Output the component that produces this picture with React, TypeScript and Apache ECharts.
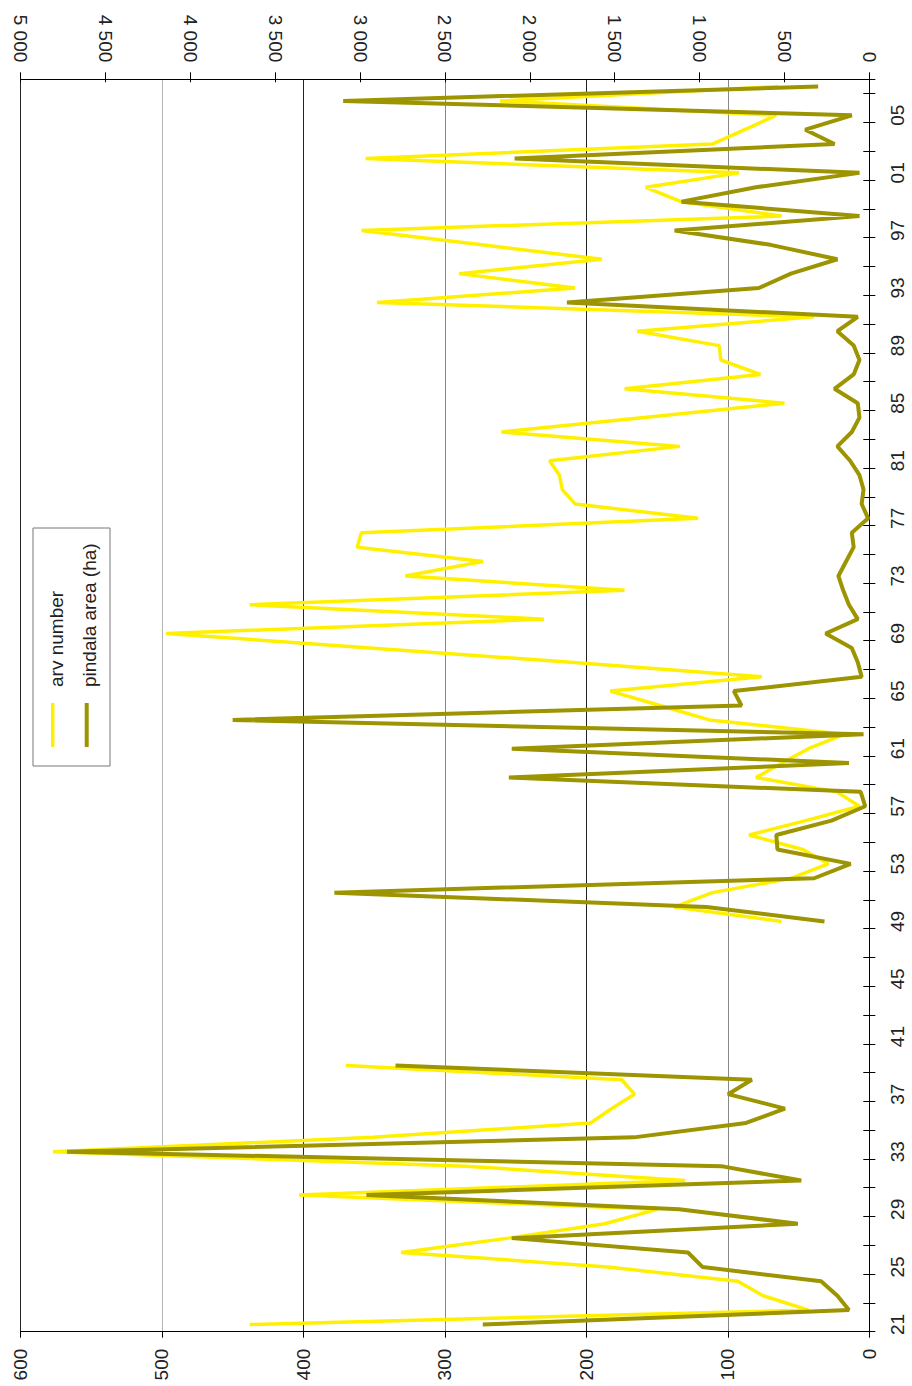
import React, { useEffect, useRef } from "react";
import * as echarts from "echarts";

const years: string[] = [];
for (let y = 1921; y <= 2007; y++) years.push(String(y));

// arv number (left axis 0-600), 1921..2007, null = no data
const arvNumber: (number | null)[] = [
  438, 43, 75, 93, 185, 331, 255, 187, 150, 403, // 1921-1930
  130, 285, 577, 351, 197, 182, 166, 175, 370, null, // 1931-1940
  null, null, null, null, null, null, null, null, 62, 138, // 1941-1950
  111, 55, 29, 47, 85, 45, 7, 23, 80, 62, // 1951-1960
  43, 18, 113, 148, 183, 76, 211, 353, 497, 230, // 1961-1970
  438, 173, 328, 273, 362, 359, 121, 208, 217, 219, // 1971-1980
  226, 134, 260, 159, 60, 173, 77, 105, 106, 164, // 1981-1990
  39, 348, 208, 290, 189, 274, 359, 62, 133, 158, // 1991-2000
  92, 356, 111, 88, 66, 261, 64, // 2001-2007
];

// pindala area (ha) (right axis 0-5000)
const pindalaArea: (number | null)[] = [
  2277, 120, 188, 284, 983, 1068, 2106, 421, 1120, 2962, // 1921-1930
  401, 873, 4726, 1387, 726, 497, 832, 692, 2791, null, // 1931-1940
  null, null, null, null, null, null, null, null, 264, 959, // 1941-1950
  3151, 325, 110, 541, 548, 223, 24, 51, 2123, 120, // 1951-1960
  2106, 34, 3750, 753, 798, 45, 68, 103, 257, 68, // 1961-1970
  120, 154, 182, 137, 92, 103, 7, 45, 34, 58, // 1971-1980
  113, 188, 103, 58, 68, 205, 92, 58, 92, 188, // 1981-1990
  68, 1781, 651, 462, 188, 582, 1147, 58, 1106, 668, // 1991-2000
  58, 2089, 205, 377, 103, 3099, 301, // 2001-2007
];

const seriesNames = ["arv number", "pindala area (ha)"];
const FONT = '"Liberation Sans", Arial, Helvetica, sans-serif';
const TXT = "#222";

function fmtThousands(v: number): string {
  if (v >= 1000) {
    const t = Math.floor(v / 1000);
    const r = String(v % 1000).padStart(3, "0");
    return `${t} ${r}`;
  }
  return String(v);
}

export default function App() {
  const ref = useRef<HTMLDivElement>(null);
  useEffect(() => {
    if (!ref.current) return;
    const chart = echarts.init(ref.current, undefined, { renderer: "svg" });
    const option: any = {
      animation: false,
      backgroundColor: "#fff",
      textStyle: { fontFamily: FONT },
      grid: { left: 20.5, right: 42.7, top: 79.3, bottom: 54.3, containLabel: false },
      xAxis: [
        {
          type: "value",
          position: "bottom",
          min: 0,
          max: 600,
          interval: 100,
          inverse: true,
          axisLine: { show: true, lineStyle: { color: "#000", width: 1 } },
          axisTick: { show: true, inside: false, length: 6, lineStyle: { color: "#000" } },
          axisLabel: { rotate: 90, margin: 17, fontSize: 19, color: TXT, fontFamily: FONT },
          splitLine: {
            show: true,
            lineStyle: {
              width: 1,
              color: ["#000", "#888", "#222", "#888", "#222", "#b5b5b5", "#222"],
            },
          },
        },
        {
          type: "value",
          position: "top",
          min: 0,
          max: 5000,
          interval: 500,
          inverse: true,
          axisLine: { show: true, lineStyle: { color: "#000", width: 1 } },
          axisTick: { show: true, inside: false, length: 7, lineStyle: { color: "#000" } },
          axisLabel: {
            rotate: 90,
            margin: 17,
            fontSize: 19,
            color: TXT,
            fontFamily: FONT,
            formatter: (v: number) => fmtThousands(v),
          },
          splitLine: { show: false },
        },
        {
          type: "value",
          position: "top",
          min: 0,
          max: 5000,
          interval: 500,
          inverse: true,
          axisLine: { show: false },
          axisTick: { show: true, inside: true, length: 3, lineStyle: { color: "#000" } },
          axisLabel: { show: false },
          splitLine: { show: false },
        },
      ],
      yAxis: [
        {
          type: "category",
          position: "right",
          data: years,
          boundaryGap: true,
          axisLine: { show: true, lineStyle: { color: "#000", width: 1 } },
          axisTick: { show: true, inside: false, length: 6, interval: 1, lineStyle: { color: "#000" } },
          axisLabel: {
            interval: 3,
            rotate: 90,
            margin: 19,
            fontSize: 19,
            color: TXT,
            fontFamily: FONT,
            formatter: (v: string) => v.slice(2),
          },
          splitLine: { show: false },
        },
        {
          type: "category",
          position: "right",
          data: years,
          boundaryGap: true,
          axisLine: { show: false },
          axisTick: { show: true, inside: true, length: 6, interval: 1, lineStyle: { color: "#000" } },
          axisLabel: { show: false },
          splitLine: { show: false },
        },
      ],
      series: [
        {
          name: seriesNames[0],
          type: "line",
          xAxisIndex: 0,
          yAxisIndex: 0,
          data: arvNumber,
          symbol: "none",
          connectNulls: false,
          lineStyle: { color: "#fff000", width: 3.5 },
          itemStyle: { color: "#fff000" },
          z: 2,
        },
        {
          name: seriesNames[1],
          type: "line",
          xAxisIndex: 1,
          yAxisIndex: 0,
          data: pindalaArea,
          symbol: "none",
          connectNulls: false,
          lineStyle: { color: "#9c9400", width: 4 },
          itemStyle: { color: "#9c9400" },
          z: 3,
        },
      ],
      graphic: [
        {
          type: "rect",
          shape: { x: 33, y: 528, width: 77, height: 238 },
          style: { fill: "#fff", stroke: "#777", lineWidth: 1 },
          z: 100,
        },
        {
          type: "line",
          shape: { x1: 52.7, y1: 703, x2: 52.7, y2: 747 },
          style: { stroke: "#fff000", lineWidth: 3.5 },
          z: 101,
        },
        {
          type: "line",
          shape: { x1: 86.7, y1: 703, x2: 86.7, y2: 747 },
          style: { stroke: "#9c9400", lineWidth: 4 },
          z: 101,
        },
        {
          type: "text",
          x: 56,
          y: 687,
          rotation: Math.PI / 2,
          style: {
            text: seriesNames[0],
            fontSize: 19,
            fontFamily: FONT,
            fill: TXT,
            textAlign: "left",
            textVerticalAlign: "middle",
          },
          z: 101,
        },
        {
          type: "text",
          x: 89,
          y: 687,
          rotation: Math.PI / 2,
          style: {
            text: seriesNames[1],
            fontSize: 19,
            fontFamily: FONT,
            fill: TXT,
            textAlign: "left",
            textVerticalAlign: "middle",
          },
          z: 101,
        },
      ],
    };
    chart.setOption(option);
    return () => chart.dispose();
  }, []);
  return (
    <div
      ref={ref}
      style={{ position: "absolute", left: 0, top: 0, width: 912, height: 1386, background: "#fff" }}
    />
  );
}
